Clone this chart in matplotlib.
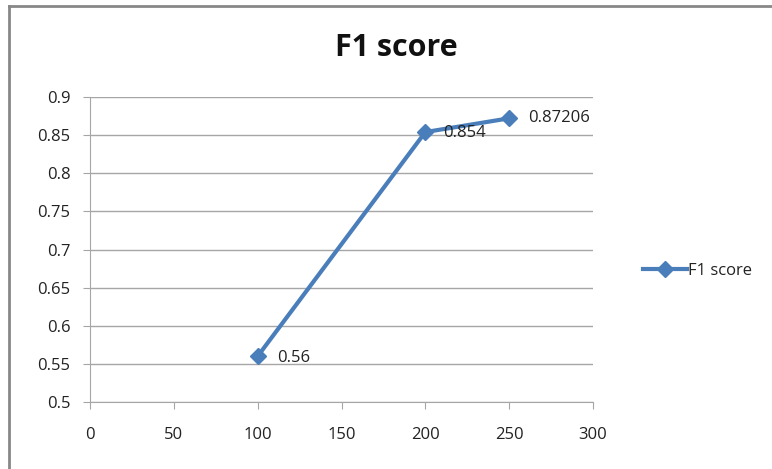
import matplotlib.pyplot as plt
from matplotlib.lines import Line2D

x_vals = [100, 200, 250]
f1_vals = [0.56, 0.854, 0.87206]
labels = ["0.56", "0.854", "0.87206"]
x_ticks = [0, 50, 100, 150, 200, 250, 300]
y_ticks = [0.5, 0.55, 0.6, 0.65, 0.7, 0.75, 0.8, 0.85, 0.9]
y_tick_labels = ["0.5", "0.55", "0.6", "0.65", "0.7", "0.75", "0.8", "0.85", "0.9"]

plt.rcParams['font.family'] = ['Open Sans', 'DejaVu Sans']
line_color = '#4a7ebb'
grid_color = '#a6a6a6'
text_color = '#222222'

fig = plt.figure(figsize=(7.72, 4.69), dpi=100)
# outer chart border (only top and left edges show in the picture)
fig.add_artist(Line2D([8.5 / 772, 8.5 / 772], [0, 1 - 6.5 / 469], transform=fig.transFigure,
                      color='#888888', linewidth=2))
fig.add_artist(Line2D([8.5 / 772, 1], [1 - 6.5 / 469, 1 - 6.5 / 469], transform=fig.transFigure,
                      color='#888888', linewidth=2))

ax = fig.add_axes([90 / 772, 1 - 402 / 469, 503 / 772, 305 / 469])
ax.plot(x_vals, f1_vals, color=line_color, linewidth=3, marker='D', markersize=8,
        label='F1 score')

offsets = [(14, -1), (13, -1), (14, 0)]
for xv, yv, lab, off in zip(x_vals, f1_vals, labels, offsets):
    ax.annotate(lab, (xv, yv), xytext=off, textcoords='offset points',
                ha='left', va='center', fontsize=12, color=text_color)

ax.set_xlim(0, 300)
ax.set_ylim(0.5, 0.9)
ax.set_xticks(x_ticks)
ax.set_yticks(y_ticks)
ax.set_xticklabels([str(t) for t in x_ticks])
ax.set_yticklabels(y_tick_labels)
ax.tick_params(axis='both', labelsize=12, length=5, color=grid_color, labelcolor=text_color)
ax.tick_params(axis='x', pad=13)
ax.tick_params(axis='y', pad=9)
ax.yaxis.grid(True, color=grid_color, linewidth=1)
ax.set_axisbelow(True)
for s in ['top', 'right']:
    ax.spines[s].set_visible(False)
for s in ['left', 'bottom']:
    ax.spines[s].set_color(grid_color)

fig.text(396 / 772, 1 - 56 / 469, "F1 score", ha='center', va='baseline',
         fontsize=22, fontweight='bold', color='#111111')

ax.legend(loc='center left', bbox_to_anchor=(1.07, 0.43), frameon=False,
          fontsize=12, handlelength=2.6, handletextpad=0.1,
          labelcolor=text_color)

plt.savefig('out.png', dpi=100)
